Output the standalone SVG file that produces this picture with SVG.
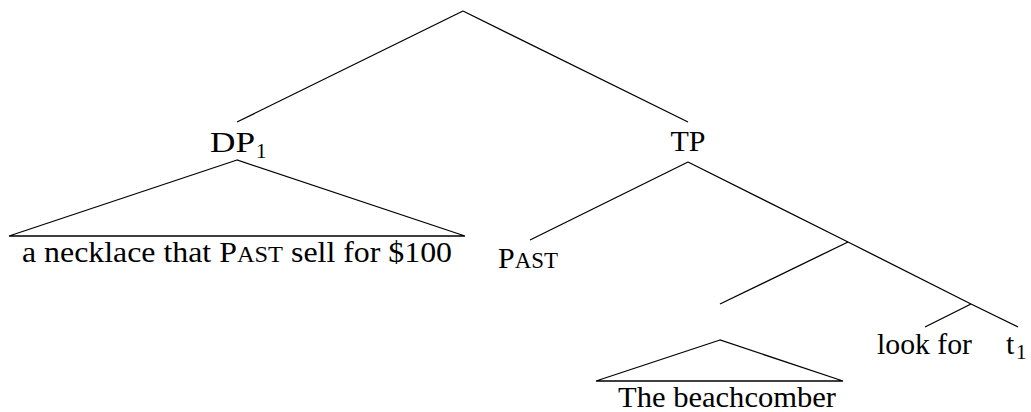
<svg xmlns="http://www.w3.org/2000/svg" width="1031" height="412" viewBox="0 0 1031 412">
<style>
text{font-family:"Liberation Serif","DejaVu Serif",serif;fill:#000;font-size:30px}
.sub{font-size:21px}
.sc{font-size:23px;text-transform:uppercase}
line,polygon{stroke:#000;stroke-width:1.3;fill:none}
</style>
<rect width="1031" height="412" fill="#fff"/>
<g id="connectors">
<line x1="463" y1="11" x2="237" y2="122"/>
<line x1="463" y1="11" x2="688" y2="122"/>
<line x1="688" y1="162" x2="530" y2="240"/>
<line x1="688" y1="162" x2="848" y2="242"/>
<line x1="848" y1="242" x2="720" y2="304"/>
<line x1="848" y1="242" x2="971" y2="304"/>
<line x1="971" y1="304" x2="925" y2="327"/>
<line x1="971" y1="304" x2="1018" y2="327"/>
</g>
<g id="dp1">
<text x="210" y="152" textLength="45" lengthAdjust="spacingAndGlyphs">DP</text><text class="sub" x="256" y="158">1</text>
<polygon points="237,160 9,236 465,236"/>
<text x="22" y="262" textLength="430" lengthAdjust="spacingAndGlyphs">a necklace that P<tspan class="sc">ast</tspan> sell for $100</text>
</g>
<g id="tp"><text x="688" y="151" text-anchor="middle">TP</text></g>
<g id="past"><text x="498" y="268" textLength="60" lengthAdjust="spacingAndGlyphs">P<tspan class="sc">ast</tspan></text></g>
<g id="subject">
<polygon points="720,340 596,381 843,381"/>
<text x="618" y="407" textLength="218" lengthAdjust="spacingAndGlyphs">The beachcomber</text>
</g>
<g id="lookfor"><text x="877" y="354" textLength="95" lengthAdjust="spacingAndGlyphs">look for</text></g>
<g id="trace"><text x="1006" y="354">t</text><text class="sub" x="1016" y="359">1</text></g>
</svg>
